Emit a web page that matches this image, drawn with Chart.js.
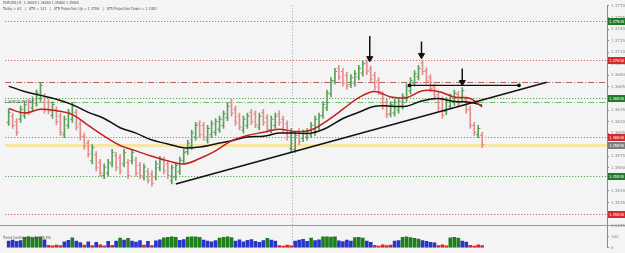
<!DOCTYPE html>
<html lang="en">
<head>
<meta charset="UTF-8">
<title>EURUSD H1</title>
<script src="https://cdn.jsdelivr.net/npm/chart.js"></script>
<style>
    html, body { margin: 0; padding: 0; background: #f4f4f4; }
    #grafico { display: block; }
</style>
</head>
<body>
<canvas id="grafico" width="625" height="253"></canvas>
<script>
// barras H1 (precos)
const highs = [1.3636,1.3631,1.3624,1.3640,1.3646,1.3649,1.3652,1.3661,1.3671,1.3656,
    1.3649,1.3646,1.3639,1.3631,1.3627,1.3636,1.3644,1.3636,1.3621,1.3605,
    1.3596,1.3590,1.3581,1.3571,1.3565,1.3571,1.3584,1.3580,1.3577,1.3584,
    1.3571,1.3584,1.3574,1.3567,1.3565,1.3559,1.3556,1.3569,1.3575,1.3574,
    1.3569,1.3564,1.3567,1.3574,1.3584,1.3596,1.3609,1.3619,1.3621,1.3619,
    1.3615,1.3621,1.3624,1.3627,1.3634,1.3644,1.3649,1.3640,1.3631,1.3627,
    1.3631,1.3636,1.3634,1.3631,1.3636,1.3629,1.3627,1.3631,1.3634,1.3627,
    1.3621,1.3611,1.3606,1.3611,1.3609,1.3611,1.3619,1.3627,1.3631,1.3646,
    1.3661,1.3677,1.3689,1.3693,1.3689,1.3684,1.3681,1.3686,1.3693,1.3699,
    1.3700,1.3692,1.3684,1.3677,1.3659,1.3649,1.3646,1.3649,1.3650,1.3656,
    1.3669,1.3677,1.3686,1.3693,1.3700,1.3690,1.3681,1.3669,1.3659,1.3652,
    1.3651,1.3656,1.3661,1.3659,1.3664,1.3652,1.3640,1.3619,1.3615,1.3606];
const lows = [1.3615,1.3611,1.3602,1.3619,1.3624,1.3629,1.3634,1.3640,1.3646,1.3631,
    1.3630,1.3624,1.3616,1.3602,1.3599,1.3611,1.3619,1.3609,1.3596,1.3584,
    1.3574,1.3565,1.3556,1.3549,1.3546,1.3549,1.3561,1.3556,1.3552,1.3561,
    1.3546,1.3565,1.3549,1.3546,1.3544,1.3540,1.3536,1.3544,1.3556,1.3552,
    1.3546,1.3539,1.3544,1.3551,1.3565,1.3577,1.3584,1.3596,1.3599,1.3596,
    1.3592,1.3599,1.3602,1.3606,1.3611,1.3621,1.3627,1.3615,1.3609,1.3605,
    1.3611,1.3616,1.3612,1.3609,1.3615,1.3606,1.3605,1.3611,1.3615,1.3605,
    1.3596,1.3581,1.3580,1.3590,1.3594,1.3596,1.3599,1.3602,1.3609,1.3624,
    1.3634,1.3652,1.3669,1.3674,1.3666,1.3662,1.3664,1.3666,1.3674,1.3679,
    1.3681,1.3671,1.3661,1.3655,1.3636,1.3625,1.3626,1.3627,1.3631,1.3636,
    1.3646,1.3656,1.3666,1.3674,1.3681,1.3669,1.3659,1.3649,1.3634,1.3624,
    1.3629,1.3636,1.3641,1.3639,1.3646,1.3631,1.3611,1.3602,1.3599,1.3586];
const opens = [1.3619,1.3627,1.3620,1.3623,1.3628,1.3645,1.3638,1.3644,1.3650,1.3652,
    1.3645,1.3628,1.3635,1.3627,1.3603,1.3615,1.3623,1.3632,1.3617,1.3601,
    1.3592,1.3569,1.3577,1.3567,1.3550,1.3553,1.3565,1.3576,1.3573,1.3565,
    1.3567,1.3569,1.3570,1.3563,1.3548,1.3555,1.3552,1.3548,1.3560,1.3570,
    1.3565,1.3543,1.3548,1.3555,1.3569,1.3581,1.3588,1.3600,1.3617,1.3615,
    1.3596,1.3603,1.3606,1.3610,1.3615,1.3625,1.3645,1.3636,1.3627,1.3609,
    1.3615,1.3632,1.3630,1.3613,1.3632,1.3625,1.3609,1.3615,1.3630,1.3623,
    1.3617,1.3585,1.3584,1.3607,1.3598,1.3600,1.3603,1.3606,1.3613,1.3628,
    1.3638,1.3656,1.3673,1.3689,1.3685,1.3680,1.3668,1.3670,1.3678,1.3683,
    1.3696,1.3688,1.3680,1.3673,1.3655,1.3645,1.3630,1.3631,1.3635,1.3640,
    1.3650,1.3660,1.3670,1.3678,1.3696,1.3686,1.3677,1.3665,1.3655,1.3648,
    1.3633,1.3640,1.3645,1.3655,1.3650,1.3648,1.3636,1.3615,1.3603,1.3602];
const closes = [1.3632,1.3615,1.3606,1.3636,1.3642,1.3633,1.3648,1.3657,1.3667,1.3635,
    1.3634,1.3642,1.3620,1.3606,1.3623,1.3632,1.3640,1.3613,1.3600,1.3588,
    1.3578,1.3586,1.3560,1.3553,1.3561,1.3567,1.3580,1.3560,1.3556,1.3580,
    1.3550,1.3580,1.3553,1.3550,1.3561,1.3544,1.3540,1.3565,1.3571,1.3556,
    1.3550,1.3560,1.3563,1.3570,1.3580,1.3592,1.3605,1.3615,1.3603,1.3600,
    1.3611,1.3617,1.3620,1.3623,1.3630,1.3640,1.3631,1.3619,1.3613,1.3623,
    1.3627,1.3620,1.3616,1.3627,1.3619,1.3610,1.3623,1.3627,1.3619,1.3609,
    1.3600,1.3607,1.3602,1.3594,1.3605,1.3607,1.3615,1.3623,1.3627,1.3642,
    1.3657,1.3673,1.3685,1.3678,1.3670,1.3666,1.3677,1.3682,1.3689,1.3695,
    1.3685,1.3675,1.3665,1.3659,1.3640,1.3629,1.3642,1.3645,1.3646,1.3652,
    1.3665,1.3673,1.3682,1.3689,1.3685,1.3673,1.3663,1.3653,1.3638,1.3628,
    1.3647,1.3652,1.3657,1.3643,1.3660,1.3635,1.3615,1.3606,1.3611,1.3590];

// medias moveis (lidas a cada 4 barras)
const maIdx = [0,4,8,12,16,20,24,28,32,36,40,44,48,52,56,60,64,68,72,76,80,84,88,92,96,100,104,108,112,116,119];
const maRed = [1.3637,1.3631,1.3636,1.3634,1.3629,1.3615,1.3601,1.3589,1.3582,1.3575,1.3569,1.3565,1.3572,1.3582,1.3595,1.3602,
    1.3606,1.3610,1.3607,1.3609,1.3621,1.3636,1.3651,1.3659,1.3652,1.3651,1.3660,1.3659,1.3652,1.3650,1.3639];
const maBlack = [1.3666,1.3659,1.3654,1.3649,1.3642,1.3632,1.3624,1.3612,1.3605,1.3596,1.3591,1.3586,1.3587,1.3591,1.3595,1.3600,
    1.3601,1.3605,1.3605,1.3605,1.3612,1.3624,1.3632,1.3640,1.3640,1.3640,1.3647,1.3650,1.3646,1.3645,1.3641];

// indicador de confirmacao (0-100) e estado: 1 alta, 0 neutro, -1 baixa
const vols = [62,70,58,66,95,100,92,98,100,72, 22,18,25,20,55,68,90,60,48,25,
    55,20,50,28,18,58,22,62,88,70, 85,60,52,66,24,58,20,64,72,90,
    96,100,94,68,75,98,100,100,96,70, 62,55,66,88,95,100,92,60,72,55,
    68,74,58,50,66,85,70,60,20,15, 25,18,62,70,76,58,88,66,72,100,
    100,98,100,64,56,70,62,92,96,88, 62,50,22,16,28,20,24,60,66,95,
    100,92,85,80,66,58,50,44,20,26, 18,90,96,88,60,52,22,16,26,20];
const volState = [0,0,0,0,1,1,1,1,1,0, -1,-1,-1,-1,0,0,1,0,0,-1,
    0,-1,0,-1,-1,0,-1,0,1,0, 1,0,0,0,-1,0,-1,0,0,1,
    1,1,1,0,0,1,1,1,1,0, 0,0,0,1,1,1,1,0,0,0,
    0,0,0,0,0,1,0,0,-1,-1, -1,-1,0,0,0,0,1,0,0,1,
    1,1,1,0,0,0,0,1,1,1, 0,0,-1,-1,-1,-1,-1,0,0,1,
    1,1,1,1,0,0,0,0,-1,-1, -1,1,1,1,0,0,-1,-1,-1,-1];

// desenhos manuais
const trendIdx = [42, 135.25];
const trendPrice = [1.3539, 1.3671];
const neckIdx = [100.75, 128.25];
const neckPrice = [1.3667, 1.3667];
const arrowIdx = [90.75, 103.75, 114];
const arrowTop = [1.3731, 1.3724, 1.3689];
const arrowTip = [1.3702, 1.3706, 1.3671];

// niveis
const greenLevels = [1.3750, 1.3650, 1.3550];
const redLevels = [1.3700, 1.3600, 1.3500];
const weeklyLevel = 1.3671;
const weeklyGreen = 1.3646;
const lastPrice = 1.3589;
const sessionBreaks = [71.25];

const header1 = 'EURUSD,H1  1.36020 1.36060 1.35860 1.35900';
const header2 = 'Today = 62   |   ATR = 141   |   ATR Projection Up = 1.3706   |   ATR Projection Down = 1.3481';

const corAlta = '#5a9f5a';
const corBaixa = '#e38c8c';

function linhaH(ctx, left, right, py, cor, dash, w) {
    ctx.save();
    ctx.strokeStyle = cor;
    ctx.lineWidth = w || 1;
    ctx.setLineDash(dash);
    ctx.beginPath();
    ctx.moveTo(left, py);
    ctx.lineTo(right, py);
    ctx.stroke();
    ctx.restore();
}

const niveis = {
    id: 'niveis',
    beforeDatasetsDraw(chart) {
        const { ctx, chartArea, scales } = chart;
        const y = scales.y, x = scales.x, yv = scales.yv;
        const l = chartArea.left, r = chartArea.right;
        const px = v => Math.round(y.getPixelForValue(v)) + 0.5;

        // linha do preco atual
        linhaH(ctx, l, r, px(lastPrice), '#f3e6a6', [], 3);

        greenLevels.forEach(v => linhaH(ctx, l, r, px(v), '#3f8f3f', [1, 2]));
        redLevels.forEach(v => linhaH(ctx, l, r, px(v), '#d24a4a', [1, 2]));
        linhaH(ctx, l, r, px(weeklyLevel), '#b35f5f', [6, 2, 1, 2]);
        linhaH(ctx, l, r, px(weeklyGreen), '#72bb72', [6, 2, 1, 2]);

        // separador de sessao
        sessionBreaks.forEach(v => {
            const xx = Math.round(x.getPixelForValue(v)) + 0.5;
            ctx.save();
            ctx.strokeStyle = '#a8a8a8';
            ctx.setLineDash([1, 2]);
            ctx.beginPath();
            ctx.moveTo(xx, chartArea.top);
            ctx.lineTo(xx, chartArea.bottom);
            ctx.stroke();
            ctx.restore();
        });

        // divisao entre paineis
        linhaH(ctx, 0, chart.width, Math.round(yv.top) - 0.5, '#9a9a9a', []);
    },
    afterDraw(chart) {
        const { ctx, scales } = chart;
        const y = scales.y;
        ctx.save();
        ctx.font = '4px "DejaVu Sans"';
        ctx.fillStyle = '#555';
        ctx.textBaseline = 'middle';
        ctx.fillText(header1, 3, 3, 76);
        ctx.fillText(header2, 3, 9, 154);
        ctx.fillText('1.36500 W1 S1', 4, Math.round(y.getPixelForValue(weeklyGreen)), 30);
        ctx.fillText('Trend Confirmation Bars(5,50)', 3, scales.yv.top + 12, 48);

        // etiquetas coloridas no eixo
        function etiqueta(v, cor) {
            const py = Math.round(y.getPixelForValue(v));
            ctx.fillStyle = cor;
            ctx.fillRect(y.left + 1, py - 3, chart.width - y.left - 1, 7);
            ctx.fillStyle = '#fff';
            ctx.font = '4px "DejaVu Sans"';
            ctx.fillText(v.toFixed(5), y.left + 2, py + 0.5, 15);
        }
        greenLevels.forEach(v => etiqueta(v, '#1f7a2a'));
        redLevels.forEach(v => etiqueta(v, '#d42a2a'));
        etiqueta(lastPrice, '#7d7d7d');
        ctx.restore();
    }
};

const idx = highs.map((h, i) => i);
const coresBarra = idx.map(i => closes[i] >= opens[i] ? corAlta : corBaixa);
const coresVol = volState.map(s => s > 0 ? '#1f7f1f' : (s < 0 ? '#d02828' : '#2a35c8'));

const setas = [];
arrowIdx.forEach((a, k) => {
    setas.push({ x: a, y: arrowTop[k] }, { x: a, y: arrowTip[k] }, { x: a, y: null });
});

const config = {
    type: 'bar',
    data: {
        datasets: [
            {
                type: 'line', label: 'pontas',
                data: arrowIdx.map((a, k) => ({ x: a, y: arrowTip[k] })),
                showLine: false, pointStyle: 'triangle', rotation: 180,
                pointRadius: 3.5, backgroundColor: '#111', borderColor: '#111', borderWidth: 1
            },
            {
                type: 'line', label: 'setas', data: setas,
                borderColor: '#111', borderWidth: 1.5, pointRadius: 0, spanGaps: false
            },
            {
                type: 'line', label: 'pescoco',
                data: neckIdx.map((a, k) => ({ x: a, y: neckPrice[k] })),
                borderColor: '#111', borderWidth: 1.2, pointRadius: 1.3, backgroundColor: '#111'
            },
            {
                type: 'line', label: 'tendencia',
                data: trendIdx.map((a, k) => ({ x: a, y: trendPrice[k] })),
                borderColor: '#111', borderWidth: 1.5, pointRadius: 0
            },
            {
                type: 'line', label: 'MA rapida',
                data: maIdx.map((a, k) => ({ x: a, y: maRed[k] })),
                borderColor: '#c41f1f', borderWidth: 1.5, pointRadius: 0, tension: 0.4
            },
            {
                type: 'line', label: 'MA lenta',
                data: maIdx.map((a, k) => ({ x: a, y: maBlack[k] })),
                borderColor: '#121212', borderWidth: 1.5, pointRadius: 0, tension: 0.4
            },
            {
                type: 'line', label: 'abertura',
                data: idx.map(i => ({ x: i - 0.3, y: opens[i] })),
                showLine: false, pointStyle: 'line', pointRadius: 1, borderWidth: 1,
                borderColor: coresBarra
            },
            {
                type: 'line', label: 'fechamento',
                data: idx.map(i => ({ x: i + 0.3, y: closes[i] })),
                showLine: false, pointStyle: 'line', pointRadius: 1, borderWidth: 1,
                borderColor: coresBarra
            },
            {
                label: 'barras',
                data: idx.map(i => ({ x: i, y: [lows[i], highs[i]] })),
                backgroundColor: coresBarra, barThickness: 1, grouped: false
            },
            {
                label: 'confirmacao', yAxisID: 'yv',
                data: idx.map(i => ({ x: i, y: vols[i] })),
                backgroundColor: coresVol, barThickness: 3, grouped: false
            }
        ]
    },
    options: {
        responsive: false,
        animation: false,
        events: [],
        layout: { padding: { left: 2, top: 0, bottom: 1, right: 0 } },
        plugins: { legend: { display: false }, tooltip: { enabled: false } },
        scales: {
            x: { type: 'linear', min: -0.875, max: 150.375, offset: false, display: false },
            y: {
                type: 'linear', position: 'right', stack: 'painel', stackWeight: 10,
                min: 1.34848, max: 1.3771,
                ticks: {
                    stepSize: 0.0015, includeBounds: false, padding: 2, autoSkip: false,
                    color: '#888', font: { size: 4, family: 'DejaVu Sans' },
                    callback: v => v.toFixed(5)
                },
                grid: { drawOnChartArea: false, tickLength: 2, color: '#8a8a8a' },
                border: { color: '#8a8a8a' },
                afterFit: s => { s.width = 18; }
            },
            yv: {
                type: 'linear', position: 'right', stack: 'painel', stackWeight: 1,
                min: 0, max: 200,
                afterBuildTicks: s => { s.ticks = [{ value: 0 }, { value: 100 }]; },
                ticks: { padding: 2, autoSkip: false, color: '#888', font: { size: 4, family: 'DejaVu Sans' } },
                grid: { drawOnChartArea: false, tickLength: 2, color: '#8a8a8a' },
                border: { color: '#8a8a8a' },
                afterFit: s => { s.width = 18; }
            }
        }
    },
    plugins: [niveis]
};

let grafico = new Chart(document.getElementById('grafico'), config);
</script>
</body>
</html>
